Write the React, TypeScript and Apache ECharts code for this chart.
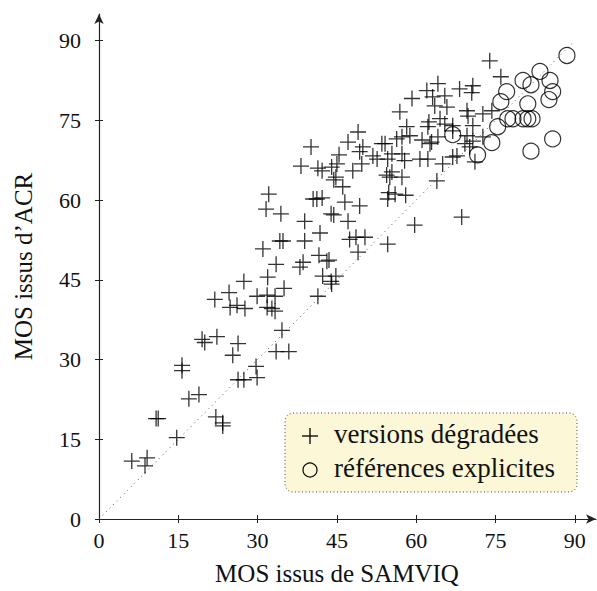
import React, { useEffect, useRef } from "react";
import * as echarts from "echarts";

const tickValues = [0, 15, 30, 45, 60, 75, 90];
const xTitle = "MOS issus de SAMVIQ";
const yTitle = "MOS issus d\u2019ACR";
const legendDegraded = "versions dégradées";
const legendReference = "références explicites";

const degradedPoints: number[][] = [
  [6.2, 10.9], [9.1, 11.5], [8.7, 10.0], [14.7, 15.3], [10.8, 18.9], [11.2, 18.9],
  [17.0, 22.6], [18.9, 23.4], [15.7, 28.9], [15.7, 27.9], [22.1, 19.2], [23.4, 18.1],
  [23.4, 17.5], [26.3, 26.2], [27.4, 26.2], [29.9, 26.6], [29.7, 28.7], [25.3, 30.8],
  [26.3, 33.0], [19.5, 33.8], [20.0, 33.2], [22.3, 34.3], [33.5, 31.5], [35.9, 31.5],
  [34.6, 35.5], [24.6, 42.6], [21.9, 41.3], [24.8, 39.8], [26.1, 40.2], [27.6, 39.6],
  [27.4, 44.7], [29.9, 41.9], [31.8, 42.1], [33.3, 41.9], [31.8, 39.8], [32.7, 39.6],
  [33.3, 39.1], [31.9, 45.5], [35.0, 43.4], [31.0, 50.8], [33.5, 47.9], [34.8, 52.3],
  [34.2, 52.3], [38.9, 52.3], [41.8, 53.8], [38.6, 48.3], [38.0, 47.4], [41.6, 49.6],
  [43.1, 48.5], [42.3, 45.7], [43.9, 44.7], [41.4, 41.9], [38.9, 56.0], [43.5, 48.7],
  [46.5, 59.6], [49.3, 58.9], [43.9, 57.4], [44.4, 57.2], [47.1, 56.0], [48.6, 53.0],
  [50.3, 53.0], [47.4, 52.6], [49.0, 50.2], [54.6, 51.7], [59.7, 55.3], [68.6, 56.8],
  [44.8, 45.7], [44.0, 44.2], [54.6, 60.2], [54.8, 61.4], [56.0, 61.1], [58.0, 60.9],
  [49.0, 72.8], [47.1, 70.9], [49.9, 70.0], [40.1, 70.0], [45.4, 68.5], [38.2, 66.4],
  [41.4, 66.0], [42.2, 65.5], [45.0, 66.8], [44.8, 64.3], [44.4, 63.8], [48.0, 65.5],
  [49.7, 66.8], [46.1, 62.5], [51.8, 68.3], [52.6, 67.7], [54.1, 70.6], [54.6, 67.7],
  [54.4, 64.7], [32.1, 61.1], [31.6, 58.3], [34.4, 57.4], [40.5, 60.2], [41.2, 60.2],
  [42.2, 60.4], [73.9, 86.2], [76.0, 83.2], [64.1, 81.9], [68.2, 80.9], [70.7, 81.5],
  [70.5, 80.2], [62.0, 80.6], [63.1, 79.4], [65.4, 79.6], [59.2, 79.1], [63.5, 77.7],
  [65.8, 77.5], [56.9, 76.6], [69.6, 76.8], [72.6, 76.2], [74.3, 76.8], [62.4, 74.7],
  [64.5, 75.3], [65.4, 74.3], [58.2, 73.8], [66.9, 74.0], [70.7, 74.0], [69.8, 75.8],
  [53.5, 70.6], [56.3, 71.5], [57.3, 71.9], [58.8, 72.1], [61.1, 71.3], [62.9, 70.9],
  [64.1, 71.9], [69.6, 72.1], [70.7, 71.1], [66.9, 73.0], [62.2, 73.8], [72.6, 71.9],
  [69.2, 70.6], [62.6, 70.6], [49.3, 69.1], [55.4, 68.7], [57.3, 68.7], [57.8, 67.4],
  [60.7, 67.7], [62.2, 67.7], [65.0, 66.8], [66.9, 68.1], [70.1, 70.0], [44.0, 66.2],
  [55.4, 65.3], [57.3, 64.3], [55.0, 64.3], [63.9, 63.6], [71.1, 67.2], [67.7, 68.3],
];

const referencePoints: number[][] = [
  [88.5, 87.2], [83.4, 84.2], [85.3, 82.5], [81.7, 81.7], [80.2, 82.5], [85.8, 80.4],
  [85.1, 78.9], [81.1, 78.1], [77.1, 80.4], [76.0, 78.5], [77.3, 75.3], [78.3, 75.3],
  [80.2, 75.3], [81.1, 75.3], [81.9, 75.3], [75.4, 73.8], [66.9, 72.3], [74.3, 70.8],
  [71.6, 68.5], [81.7, 69.2], [85.8, 71.5],
];

const diagonal: number[][] = [[0, 0], [90, 90]];

const FONT = "'Liberation Serif', 'DejaVu Serif', serif";
const INK = "#111";
const CROSS = "path://M0,5L10,5M5,0L5,10";

export default function App() {
  const ref = useRef<HTMLDivElement>(null);
  useEffect(() => {
    if (!ref.current) return;
    const chart = echarts.init(ref.current, undefined, { renderer: "svg" });
    const axisBase = (max: number) => ({
      type: "value",
      min: 0,
      max,
      interval: 15,
      splitLine: { show: false },
    });
    const tickStyle = { color: "#222", width: 1 };
    const mainX = {
      ...axisBase(94),
      position: "bottom",
      axisLine: {
        show: true,
        onZero: false,
        symbol: ["none", "arrow"],
        symbolSize: [7, 10],
        lineStyle: { color: "#222", width: 1.2 },
      },
      axisTick: { show: true, length: 4, customValues: tickValues, lineStyle: tickStyle },
      axisLabel: { customValues: tickValues, fontFamily: FONT, fontSize: 22, color: INK, margin: 10 },
      name: xTitle,
      nameLocation: "middle",
      nameGap: 42,
      nameTextStyle: { fontFamily: FONT, fontSize: 25, color: INK, padding: [0, 21, 0, 0] },
    };
    const innerX = {
      ...axisBase(94),
      position: "bottom",
      axisLine: { show: false },
      axisTick: { show: true, inside: true, length: 4, customValues: tickValues, lineStyle: tickStyle },
      axisLabel: { show: false },
    };
    const mainY = {
      ...axisBase(95),
      position: "left",
      axisLine: {
        show: true,
        onZero: false,
        symbol: ["none", "arrow"],
        symbolSize: [7, 10],
        lineStyle: { color: "#222", width: 1.2 },
      },
      axisTick: { show: true, length: 4, customValues: tickValues, lineStyle: tickStyle },
      axisLabel: { customValues: tickValues, fontFamily: FONT, fontSize: 22, color: INK, margin: 18 },
      name: yTitle,
      nameLocation: "middle",
      nameGap: 63,
      nameTextStyle: { fontFamily: FONT, fontSize: 25, color: INK },
    };
    const innerY = {
      ...axisBase(95),
      position: "left",
      axisLine: { show: false },
      axisTick: { show: true, inside: true, length: 4, customValues: tickValues, lineStyle: tickStyle },
      axisLabel: { show: false },
    };
    chart.setOption({
      animation: false,
      grid: { left: 99, top: 14, right: 1, bottom: 72, containLabel: false },
      xAxis: [mainX, innerX],
      yAxis: [mainY, innerY],
      series: [
        {
          type: "line",
          data: diagonal,
          symbol: "none",
          silent: true,
          lineStyle: { color: "#555", width: 1, type: [1, 4] },
          z: 1,
        },
        {
          name: legendReference,
          type: "scatter",
          data: referencePoints,
          symbol: "circle",
          symbolSize: 16,
          silent: true,
          itemStyle: { color: "rgba(0,0,0,0)", borderColor: "#000", borderWidth: 1.2 },
          z: 2,
        },
        {
          name: legendDegraded,
          type: "scatter",
          data: degradedPoints,
          symbol: CROSS,
          symbolSize: 16,
          silent: true,
          itemStyle: { color: "#000", borderColor: "#000", borderWidth: 1.3 },
          z: 3,
        },
      ],
      graphic: [
        {
          type: "rect",
          shape: { x: 285, y: 413, width: 292, height: 79, r: 8 },
          style: { fill: "#fcf7d6", stroke: "#444", lineWidth: 1, lineDash: [1, 2.5] },
          z: 10,
        },
        {
          type: "line",
          shape: { x1: 302, y1: 436, x2: 318, y2: 436 },
          style: { stroke: "#000", lineWidth: 1.3 },
          z: 11,
        },
        {
          type: "line",
          shape: { x1: 310, y1: 428, x2: 310, y2: 444 },
          style: { stroke: "#000", lineWidth: 1.3 },
          z: 11,
        },
        {
          type: "circle",
          shape: { cx: 310, cy: 470, r: 7 },
          style: { fill: "none", stroke: "#000", lineWidth: 1.2 },
          z: 11,
        },
        {
          type: "text",
          x: 334,
          y: 434,
          style: { text: legendDegraded, font: `27px ${FONT}`, fill: INK, verticalAlign: "middle" },
          z: 11,
        },
        {
          type: "text",
          x: 334,
          y: 468,
          style: { text: legendReference, font: `27px ${FONT}`, fill: INK, verticalAlign: "middle" },
          z: 11,
        },
      ],
    });
    return () => chart.dispose();
  }, []);
  return (
    <div
      ref={ref}
      style={{ position: "fixed", left: 0, top: 0, width: 597, height: 591, background: "#fff" }}
    />
  );
}
